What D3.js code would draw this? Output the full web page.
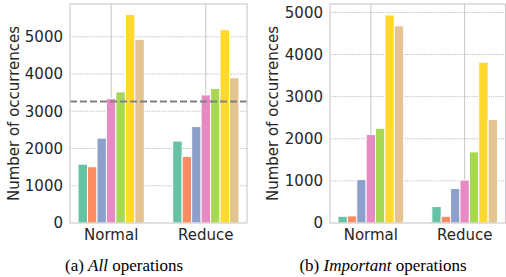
<!DOCTYPE html>
<html>
<head>
<meta charset="utf-8">
<script src="https://cdn.jsdelivr.net/npm/d3@7"></script>
<style>
  body { margin: 0; background: #fff; }
  svg { display: block; }
</style>
</head>
<body>
<svg id="chart" width="506" height="277"></svg>
<script>
// categories and series (one bar per series within each category)
const categories = ["Normal", "Reduce"];
const seriesColors = ["#66c2a5", "#fc8d62", "#8da0cb", "#e78ac3", "#a6d854", "#ffd92f", "#e5c494"];

// (a) All operations
const allNormal = [1580, 1510, 2280, 3340, 3520, 5600, 4930];
const allReduce = [2200, 1790, 2590, 3440, 3610, 5190, 3900];
const allThreshold = 3260;

// (b) Important operations
const impNormal = [160, 170, 1030, 2100, 2250, 4940, 4680];
const impReduce = [390, 160, 820, 1020, 1690, 3820, 2460];

const yTicks = [0, 1000, 2000, 3000, 4000, 5000];

const svg = d3.select("#chart");

function drawPanel(opts) {
   const { left, right, top, bottom, yMax, values, threshold, caption, italic, captionX, labelX } = opts;

   const x = d3.scaleLinear().domain([-0.435, 1.435]).range([left, right]);
   const y = d3.scaleLinear().domain([0, yMax]).range([bottom, top]);
   const g = svg.append("g");

   // horizontal dotted grid
   g.selectAll(".hgrid")
      .data(yTicks.filter((t) => t > 0))
      .enter()
      .append("line")
      .attr("x1", left).attr("x2", right)
      .attr("y1", (d) => y(d)).attr("y2", (d) => y(d))
      .attr("stroke", "#a8a8a8")
      .attr("stroke-width", 0.8)
      .attr("stroke-dasharray", "1.2,1.2");

   // vertical solid grid at categories
   g.selectAll(".vgrid")
      .data(categories)
      .enter()
      .append("line")
      .attr("x1", (d, i) => x(i)).attr("x2", (d, i) => x(i))
      .attr("y1", top).attr("y2", bottom)
      .attr("stroke", "#c4c4c4")
      .attr("stroke-width", 1);

   // bars
   const bw = 0.1;
   const n = seriesColors.length;
   values.forEach((vals, ci) => {
      g.selectAll(null)
         .data(vals)
         .enter()
         .append("rect")
         .attr("x", (d, i) => x(ci + (i - n / 2) * bw))
         .attr("width", (d, i) => x(ci + (i - n / 2 + 1) * bw) - x(ci + (i - n / 2) * bw))
         .attr("y", (d) => y(d))
         .attr("height", (d) => y(0) - y(d))
         .attr("fill", (d, i) => seriesColors[i])
         .attr("stroke", "#fff")
         .attr("stroke-width", 1);
   });

   // threshold line
   if (threshold != null) {
      g.append("line")
         .attr("x1", left).attr("x2", right)
         .attr("y1", y(threshold)).attr("y2", y(threshold))
         .attr("stroke", "#808080")
         .attr("stroke-width", 2)
         .attr("stroke-dasharray", "7,3");
   }

   // frame
   g.append("rect")
      .attr("x", left).attr("y", top)
      .attr("width", right - left).attr("height", bottom - top)
      .attr("fill", "none")
      .attr("stroke", "#cccccc")
      .attr("stroke-width", 1.2);

   // y tick labels
   g.selectAll(".ytick")
      .data(yTicks)
      .enter()
      .append("text")
      .attr("x", left - 7)
      .attr("y", (d) => y(d))
      .attr("dy", "0.36em")
      .attr("text-anchor", "end")
      .style("font-family", "DejaVu Sans")
      .style("font-size", "15px")
      .style("fill", "#262626")
      .text((d) => d);

   // x tick labels
   g.selectAll(".xtick")
      .data(categories)
      .enter()
      .append("text")
      .attr("x", (d, i) => x(i))
      .attr("y", 240)
      .attr("text-anchor", "middle")
      .style("font-family", "DejaVu Sans")
      .style("font-size", "15px")
      .style("fill", "#262626")
      .text((d) => d);

   // y axis label
   g.append("text")
      .attr("transform", `translate(${labelX},${(top + bottom) / 2}) rotate(-90)`)
      .attr("text-anchor", "middle")
      .attr("dy", "0.36em")
      .style("font-family", "DejaVu Sans")
      .style("font-size", "15px")
      .style("fill", "#262626")
      .text("Number of occurrences");

   // caption
   const cap = g.append("text")
      .attr("x", captionX)
      .attr("y", 271)
      .attr("text-anchor", "middle")
      .style("font-family", "Liberation Serif")
      .style("font-size", "17px")
      .style("fill", "#000");
   cap.append("tspan").text(caption[0]);
   cap.append("tspan").style("font-style", "italic").text(italic);
   cap.append("tspan").text(caption[1]);
}

drawPanel({
   left: 70, right: 247, top: 4, bottom: 223, yMax: 5880,
   values: [allNormal, allReduce], threshold: allThreshold,
   caption: ["(a) ", " operations"], italic: "All",
   captionX: 124, labelX: 13.5
});

drawPanel({
   left: 330, right: 505.5, top: 4, bottom: 223, yMax: 5200,
   values: [impNormal, impReduce], threshold: null,
   caption: ["(b) ", " operations"], italic: "Important",
   captionX: 383, labelX: 272.5
});
</script>
</body>
</html>
